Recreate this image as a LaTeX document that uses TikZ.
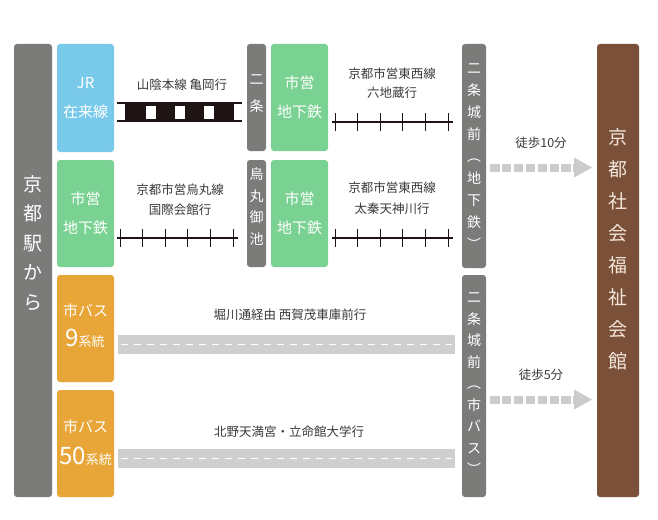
\documentclass[tikz,border=0pt]{standalone}
\usepackage{fontspec}
\setmainfont{Noto Sans CJK JP}
\usetikzlibrary{arrows.meta}
\definecolor{stngray}{HTML}{7B7B79}
\definecolor{jrblue}{HTML}{79CAEA}
\definecolor{subgreen}{HTML}{7AD292}
\definecolor{busorange}{HTML}{E8A638}
\definecolor{kaikanbrown}{HTML}{7B5038}
\definecolor{bandgray}{HTML}{CFCFCF}
\definecolor{walkgray}{HTML}{CCCCCC}
\definecolor{railblack}{HTML}{1E1414}
\definecolor{lbltext}{HTML}{3A3A3A}
\definecolor{browntext}{HTML}{F3E6DB}
\begin{document}
\begin{tikzpicture}[x=1pt, y=-1pt,
  box/.style={rectangle, rounded corners=3pt, inner sep=0pt, outer sep=0pt, anchor=north west, text=white, align=center, font=\fontsize{15}{28.5}\selectfont},
  stnbox/.style={box, fill=stngray},
  jrbox/.style={box, fill=jrblue},
  subbox/.style={box, fill=subgreen},
  busbox/.style={box, fill=busorange},
  vtext/.style={text=white, align=center, inner sep=0pt},
  lbl/.style={text=lbltext, font=\fontsize{12.5}{20}\selectfont, align=center, inner sep=0pt},
  railline/.style={draw=railblack, line width=1.3pt},
  subline/.style={draw=railblack, line width=1.8pt},
  tickmark/.style={draw=railblack, line width=0.9pt},
  band/.style={draw=bandgray, line width=19pt},
  bandmark/.style={draw=white, line width=1.6pt, dash pattern=on 7pt off 6pt},
  walk/.style={draw=walkgray, line width=8pt, dash pattern=on 9.5pt off 2.4pt, -{Triangle[width=20pt,length=18pt,line width=0pt]}},
]
\useasboundingbox (0,0) rectangle (658,519);
\fill[white] (0,0) rectangle (658,519);

% boxes
\node[stnbox, minimum width=38pt, minimum height=453pt] (kyoto) at (14,44) {};
\node[jrbox, minimum width=57pt, minimum height=108pt] (jr) at (57,44) {JR\\在来線};
\node[stnbox, minimum width=19pt, minimum height=107pt] (nijo) at (247,44) {};
\node[subbox, minimum width=57pt, minimum height=107pt] (sub1) at (271,44) {市営\\地下鉄};
\node[subbox, minimum width=57pt, minimum height=107pt] (sub2) at (57,160) {市営\\地下鉄};
\node[stnbox, minimum width=19pt, minimum height=107pt] (karasuma) at (247,160) {};
\node[subbox, minimum width=57pt, minimum height=107pt] (sub3) at (271,160) {市営\\地下鉄};
\node[busbox, minimum width=57pt, minimum height=107pt] (bus9) at (57,275) {};
\node[busbox, minimum width=57pt, minimum height=107pt] (bus50) at (57,390) {};
\node[stnbox, minimum width=24pt, minimum height=224pt] (jo1) at (462,44) {};
\node[stnbox, minimum width=24pt, minimum height=222pt] (jo2) at (462,275) {};
\node[box, fill=kaikanbrown, minimum width=42pt, minimum height=453pt] (kaikan) at (597,44) {};

% vertical texts
\node[vtext, font=\fontsize{19}{29.5}\selectfont] (kyototxt) at (33,243) {京\\都\\駅\\か\\ら};
\node[vtext, text=browntext, font=\fontsize{19}{32}\selectfont] (kaikantxt) at (618,249) {京\\都\\社\\会\\福\\祉\\会\\館};
\node[vtext, font=\fontsize{14}{27}\selectfont] (nijotxt) at (256.5,93.5) {二\\条};
\node[vtext, font=\fontsize{14}{21.7}\selectfont] (karasumatxt) at (256.5,206.5) {烏\\丸\\御\\池};
\node[vtext, font=\fontsize{14}{22}\selectfont] (jo1txt) at (474,157) {二\\条\\城\\前\\︵\\地\\下\\鉄\\︶};
\node[vtext, font=\fontsize{14}{21.5}\selectfont] (jo2txt) at (474,384) {二\\条\\城\\前\\︵\\市\\バ\\ス\\︶};

% bus box texts
\node[vtext, font=\fontsize{15}{15}\selectfont] (bus9a) at (85.5,311) {市バス};
\node[vtext] (bus9b) at (85,338) {{\fontsize{24}{24}\selectfont 9}{\fontsize{13}{14}\selectfont 系統}};
\node[vtext, font=\fontsize{15}{15}\selectfont] (bus50a) at (85.5,427) {市バス};
\node[vtext] (bus50b) at (85.5,456) {{\fontsize{24}{24}\selectfont 50}{\fontsize{13}{14}\selectfont 系統}};

% labels
\node[lbl] (l1) at (182,85) {山陰本線 亀岡行};
\node[lbl, font=\fontsize{12.5}{19}\selectfont] (l2) at (392,83.5) {京都市営東西線\\六地蔵行};
\node[lbl, font=\fontsize{12.5}{20.5}\selectfont] (l3) at (180,199.5) {京都市営烏丸線\\国際会館行};
\node[lbl, font=\fontsize{12.5}{21}\selectfont] (l4) at (392,198.5) {京都市営東西線\\太秦天神川行};
\node[lbl] (l5) at (290,315) {堀川通経由 西賀茂車庫前行};
\node[lbl] (l6) at (289,432) {北野天満宮・立命館大学行};
\node[lbl] (w1) at (541,143) {徒歩10分};
\node[lbl] (w2) at (541,375) {徒歩5分};

% JR track
\coordinate (jrT) at (0,103);
\coordinate (jrB) at (0,121);
\fill[railblack] (125,103) rectangle (234,121);
\foreach \x in {150.5,179.5,208.5} \fill[white] (\x-5,105.5) rectangle (\x+5,119);
\draw[railline, shorten <=3pt, shorten >=5pt] (jr.east |- jrT) -- (nijo.west |- jrT);
\draw[railline, shorten <=3pt, shorten >=5pt] (jr.east |- jrB) -- (nijo.west |- jrB);

% subway tracks
\coordinate (s1) at (0,122);
\coordinate (s2) at (0,238);
\draw[subline, shorten <=4pt, shorten >=9pt] (sub1.east |- s1) -- (jo1.west |- s1);
\foreach \k in {0,...,5} \draw[tickmark] (335+\k*22.6,113) -- (335+\k*22.6,131);
\draw[subline, shorten <=3pt, shorten >=9pt] (sub2.east |- s2) -- (karasuma.west |- s2);
\foreach \k in {0,...,5} \draw[tickmark] (120+\k*22.6,229) -- (120+\k*22.6,247);
\draw[subline, shorten <=4pt, shorten >=9pt] (sub3.east |- s2) -- (jo1.west |- s2);
\foreach \k in {0,...,5} \draw[tickmark] (335+\k*22.6,229) -- (335+\k*22.6,247);

% bus bands
\coordinate (b1) at (0,344.5);
\coordinate (b2) at (0,458.5);
\draw[band, shorten <=4pt, shorten >=7pt] (bus9.east |- b1) -- (jo2.west |- b1);
\draw[bandmark, shorten <=7pt, shorten >=10pt] (bus9.east |- b1) -- (jo2.west |- b1);
\draw[band, shorten <=4pt, shorten >=7pt] (bus50.east |- b2) -- (jo2.west |- b2);
\draw[bandmark, shorten <=7pt, shorten >=10pt] (bus50.east |- b2) -- (jo2.west |- b2);

% walking arrows
\coordinate (a1) at (0,167.5);
\coordinate (a2) at (0,399.5);
\draw[walk, shorten <=4pt, shorten >=5pt] (jo1.east |- a1) -- (kaikan.west |- a1);
\draw[walk, shorten <=4pt, shorten >=5pt] (jo2.east |- a2) -- (kaikan.west |- a2);
\end{tikzpicture}
\end{document}
